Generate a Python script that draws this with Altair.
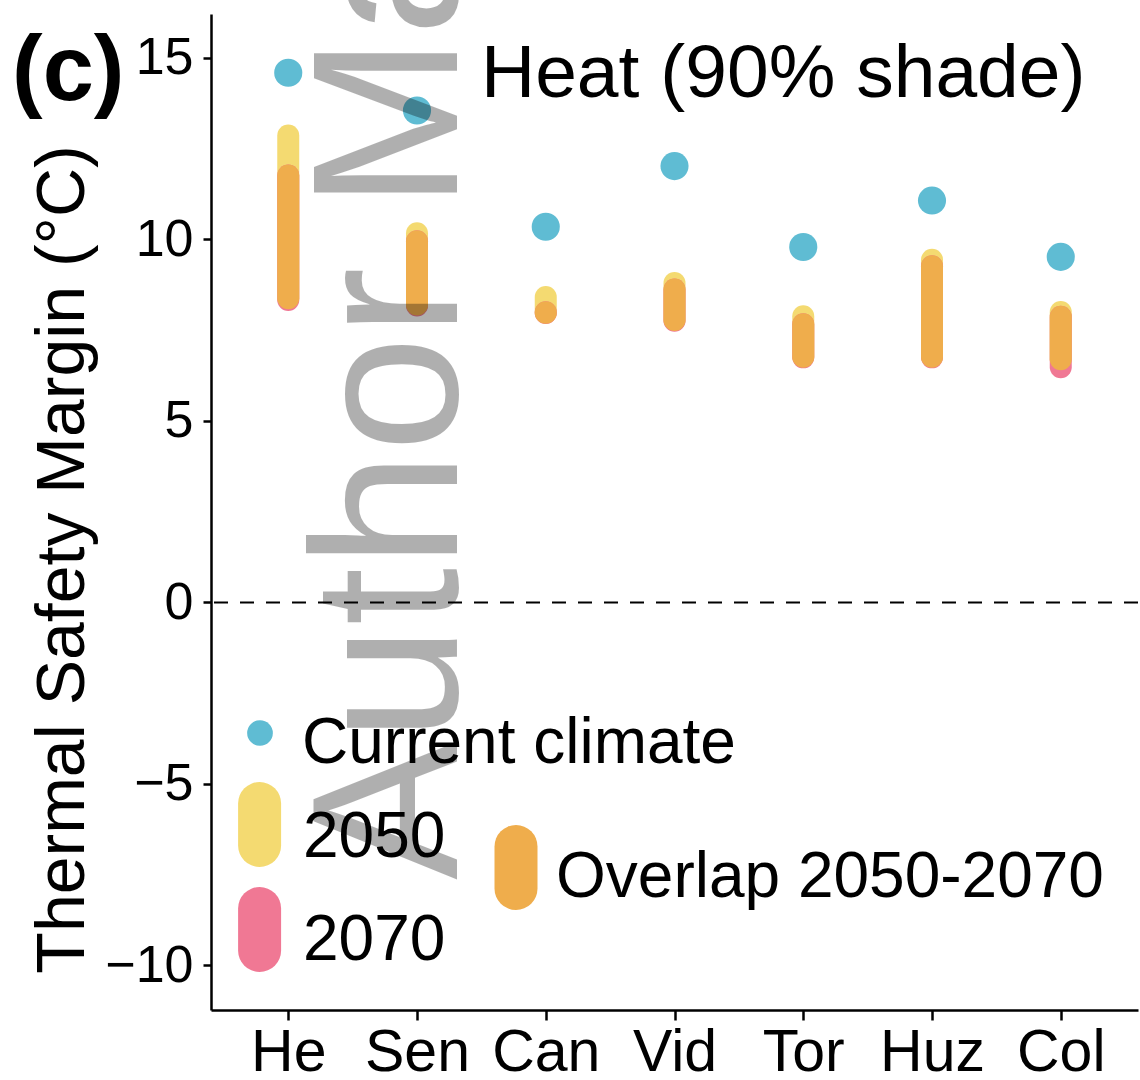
import altair as alt
import numpy as np
import pandas as pd

# Sites along the x axis
sites = ["He", "Sen", "Can", "Vid", "Tor", "Huz", "Col"]

# Thermal safety margin (°C) under the current climate
current = [14.59, 13.55, 10.35, 12.02, 9.79, 11.07, 9.52]

# Projected ranges (low / high) for 2050 and 2070
lo_2050 = [8.38, 8.21, 7.98, 7.78, 6.77, 6.77, 6.70]
hi_2050 = [12.86, 10.17, 8.41, 8.80, 7.88, 9.44, 8.00]
lo_2070 = [8.33, 8.18, 7.97, 7.76, 6.75, 6.75, 6.48]
hi_2070 = [11.76, 9.95, 7.99, 8.62, 7.66, 9.26, 7.87]

y_ticks = [-10, -5, 0, 5, 10, 15]

BLUE = "#5fbcd3"
YELLOW = "#f4da71"
PINK = "#f07894"
ORANGE = "#efad4c"
FONT = "Liberation Sans"

df = pd.DataFrame({
    "site": sites,
    "current": current,
    "lo_2050": lo_2050,
    "hi_2050": hi_2050,
    "lo_2070": lo_2070,
    "hi_2070": hi_2070,
})
# overlap of the two projection ranges
df["lo_ov"] = np.maximum(df["lo_2050"], df["lo_2070"])
df["hi_ov"] = np.minimum(df["hi_2050"], df["hi_2070"])

x_axis = alt.Axis(
    title=None, labelAngle=0, labelFont=FONT, labelFontSize=59, labelColor="black",
    labelPadding=3, tickSize=10, tickWidth=2.5, tickColor="black",
    domainColor="black", domainWidth=2.5, grid=False,
)
y_axis = alt.Axis(
    values=y_ticks, title="Thermal Safety Margin (°C)", titleFont=FONT,
    titleFontSize=68, titleFontWeight="normal", titleColor="black",
    titleAngle=270, titleAlign="center", titleBaseline="alphabetic",
    titleX=-128, titleY=545,
    labelFont=FONT, labelFontSize=52, labelColor="black", labelPadding=10,
    tickSize=8, tickWidth=2.5, tickColor="black",
    domainColor="black", domainWidth=2.5, grid=False,
)
x_scale = alt.Scale(type="point", padding=0.6)
y_scale = alt.Scale(domain=[-11.23, 16.21], nice=False, zero=False)


def X():
    return alt.X("site:N", sort=sites, scale=x_scale, axis=x_axis)


def Y(field):
    return alt.Y(f"{field}:Q", scale=y_scale, axis=y_axis)


base = alt.Chart(df)


def range_rule(lo, hi, color):
    return base.mark_rule(strokeWidth=22, strokeCap="round", color=color).encode(
        x=X(), y=Y(lo), y2=alt.Y2(f"{hi}:Q")
    )


bars_2050 = range_rule("lo_2050", "hi_2050", YELLOW)
bars_2070 = range_rule("lo_2070", "hi_2070", PINK)
bars_ov = range_rule("lo_ov", "hi_ov", ORANGE)

points = base.mark_circle(size=790, opacity=1, color=BLUE).encode(x=X(), y=Y("current"))

zero_line = alt.Chart(pd.DataFrame({"v": [0]})).mark_rule(
    color="black", strokeWidth=2, strokeDash=[14, 12]
).encode(y=Y("v"))

one = pd.DataFrame({"k": [0]})


def txt(text, x, y, size, weight="normal", align="left", color="black", angle=0, opacity=1.0):
    return alt.Chart(one).mark_text(
        text=text, font=FONT, fontSize=size, fontWeight=weight, align=align,
        baseline="alphabetic", color=color, angle=angle, opacity=opacity,
    ).encode(x=alt.value(x), y=alt.value(y))


def pill(x, y_top, y_bot, color):
    return alt.Chart(one).mark_rule(strokeWidth=43, strokeCap="round", color=color).encode(
        x=alt.value(x), y=alt.value(y_top), y2=alt.value(y_bot)
    )


legend = alt.layer(
    alt.Chart(one).mark_circle(size=660, opacity=1, color=BLUE).encode(
        x=alt.value(49), y=alt.value(719)
    ),
    txt("Current climate", 91, 749, 64),
    pill(48.6, 789.5, 831.5, YELLOW),
    txt("2050", 92, 843, 64),
    pill(48.6, 894.5, 936.5, PINK),
    txt("2070", 92, 946, 64),
    pill(305, 832.5, 874.5, ORANGE),
    txt("Overlap 2050-2070", 345, 883, 64),
)

labels = alt.layer(
    txt("Heat (90% shade)", 270, 83, 75),
    txt("(c)", -199, 86, 92, weight="bold"),
)

watermark = txt("Author Manuscript", 246, 866, 208, angle=270, opacity=0.31)

chart = alt.layer(
    zero_line, bars_2050, bars_2070, bars_ov, points, legend, watermark, labels
).properties(
    width=927,
    height=996,
    autosize=alt.AutoSizeParams(type="none"),
    padding={"left": 211, "top": 14, "right": 2, "bottom": 70},
).configure_view(stroke=None)

chart.save("out.html", embed_options={"renderer": "svg", "actions": False})
